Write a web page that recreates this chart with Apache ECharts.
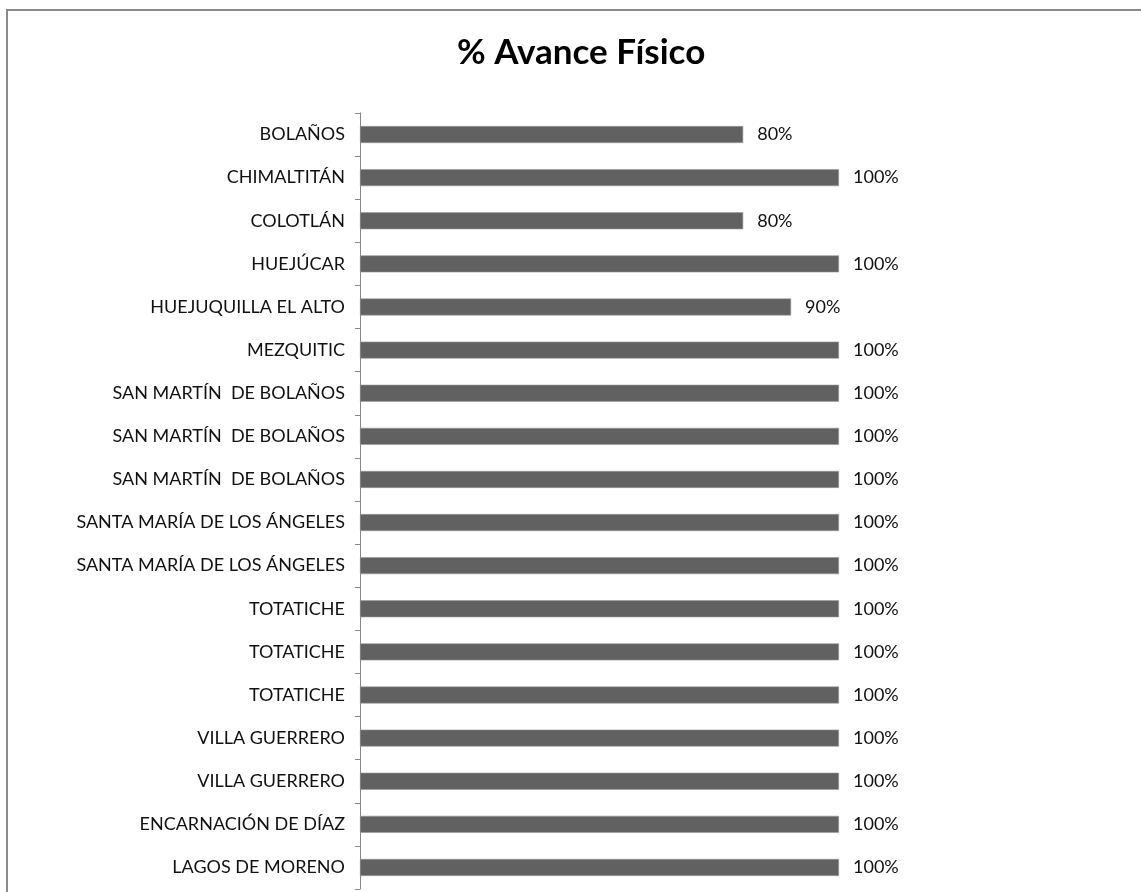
<!DOCTYPE html>
<html>
<head>
<meta charset="utf-8">
<script src="https://cdn.jsdelivr.net/npm/echarts@6/dist/echarts.min.js"></script>
<style>
  html, body { margin: 0; padding: 0; background: #fff; }
  #chart { width: 1141px; height: 892px; }
</style>
</head>
<body>
<div id="chart"></div>
<script>
// municipios, de arriba a abajo
const municipios = [
    'BOLAÑOS', 'CHIMALTITÁN', 'COLOTLÁN', 'HUEJÚCAR', 'HUEJUQUILLA EL ALTO',
    'MEZQUITIC', 'SAN MARTÍN  DE BOLAÑOS', 'SAN MARTÍN  DE BOLAÑOS', 'SAN MARTÍN  DE BOLAÑOS',
    'SANTA MARÍA DE LOS ÁNGELES', 'SANTA MARÍA DE LOS ÁNGELES',
    'TOTATICHE', 'TOTATICHE', 'TOTATICHE',
    'VILLA GUERRERO', 'VILLA GUERRERO', 'ENCARNACIÓN DE DÍAZ', 'LAGOS DE MORENO'
];
const avance = [80, 100, 80, 100, 90, 100, 100, 100, 100, 100, 100, 100, 100, 100, 100, 100, 100, 100];

const chart = echarts.init(document.getElementById('chart'));
chart.setOption({
    animation: false,
    textStyle: { fontFamily: 'Lato' },
    title: {
        text: '% Avance Físico',
        left: 452,
        top: 30,
        textStyle: { fontFamily: 'Lato', fontSize: 35, fontWeight: 'bold', color: '#000' }
    },
    graphic: [{
        type: 'rect',
        shape: { x: 7, y: 10, width: 1200, height: 1000 },
        style: { fill: 'none', stroke: '#8a8a8a', lineWidth: 2 },
        silent: true
    }],
    grid: { left: 360, right: 302, top: 113, bottom: 3, containLabel: false },
    xAxis: {
        type: 'value',
        min: 0,
        max: 100,
        show: false
    },
    yAxis: {
        type: 'category',
        inverse: true,
        data: municipios,
        axisLine: { show: true, lineStyle: { color: '#888', width: 1 } },
        axisTick: { show: true, length: 5, lineStyle: { color: '#888' } },
        axisLabel: { color: '#111', fontSize: 18, margin: 15 }
    },
    series: [{
        type: 'bar',
        data: avance,
        barWidth: 17,
        itemStyle: { color: '#616161', borderColor: '#9a9a9a', borderWidth: 0.6 },
        label: {
            show: true,
            position: 'right',
            distance: 14,
            formatter: '{c}%',
            color: '#111',
            fontSize: 18
        }
    }]
});
</script>
</body>
</html>
